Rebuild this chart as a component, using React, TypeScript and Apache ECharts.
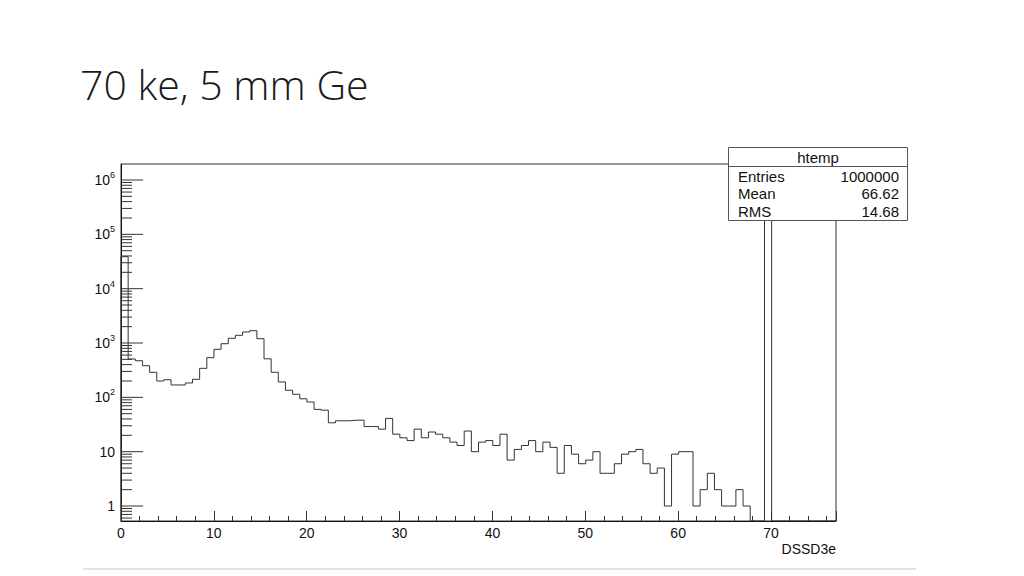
import React, { useEffect, useRef } from "react";
import * as echarts from "echarts";

// Histogram definition (ROOT "htemp", 100 bins)
const X_LOW = 0;
const X_HIGH = 77;
const Y_MIN = 0.53;
const Y_MAX = 1.97e6;
const X_TICKS = [0, 10, 20, 30, 40, 50, 60, 70];
const Y_DECADES = [-1, 0, 1, 2, 3, 4, 5, 6];

const COUNTS = [
  38800, 508, 472, 382, 289, 200, 211, 169, 169, 184,
  215, 342, 537, 766, 971, 1221, 1386, 1594, 1685, 1200,
  512, 289, 192, 135, 114, 94, 82, 60, 58, 34,
  37, 37, 38, 38, 29, 29, 26, 41, 21, 18,
  16, 26, 18, 23, 21, 18, 15, 13, 24, 10,
  15, 16, 13, 21, 7, 11, 13, 16, 10, 15,
  12, 4, 13, 9, 6, 7, 10, 4, 4, 6,
  9, 10, 11, 6, 4, 5, 1, 9, 10, 10,
  1, 2, 4, 2, 1, 1, 2, 1, 0, 0,
  940000, 0, 0, 0, 0, 0, 0, 0, 0, 0,
];

const TITLE = "70 ke, 5 mm Ge";
const HIST_NAME = "htemp";
const STATS_LABELS = ["Entries", "Mean", "RMS"];
const STATS_VALUES = ["1000000", "66.62", "14.68"];
const X_TITLE = "DSSD3e";

const AXIS_FONT = "Liberation Sans, Arial, sans-serif";
const INK = "#333";

export default function App() {
  const ref = useRef<HTMLDivElement>(null);

  useEffect(() => {
    if (!ref.current) return;
    const chart = echarts.init(ref.current, null, { renderer: "svg" });

    const nb = COUNTS.length;
    const bw = (X_HIGH - X_LOW) / nb;
    const clampV = (v: number) => (v > Y_MIN ? v : Y_MIN);
    const histData: number[][] = [[X_LOW, Y_MIN]];
    for (let i = 0; i < nb; i++) histData.push([X_LOW + i * bw, clampV(COUNTS[i])]);
    histData.push([X_HIGH, clampV(COUNTS[nb - 1])]);

    const tickData: number[][] = [];
    Y_DECADES.forEach((e) => {
      for (let k = 1; k <= 9; k++) {
        const v = k * Math.pow(10, e);
        if (v > Y_MIN && v < Y_MAX) tickData.push([X_LOW, v, k === 1 ? 22 : 11]);
      }
    });

    const yFmt = (v: number) => {
      const l = Math.log10(v);
      const e = Math.round(l);
      if (Math.abs(l - e) > 1e-6 || e < 0) return "";
      if (e === 0) return "1";
      if (e === 1) return "10";
      return `{b|10}{s|${e}}`;
    };

    const option: any = {
      animation: false,
      backgroundColor: "#fff",
      grid: {
        left: 121,
        top: 164,
        width: 715,
        height: 357,
        show: true,
        borderColor: INK,
        borderWidth: 1,
        backgroundColor: "transparent",
      },
      xAxis: {
        type: "value",
        min: X_LOW,
        max: X_HIGH,
        interval: 10,
        axisLine: { show: true, lineStyle: { color: "#111", width: 1 } },
        axisTick: { show: true, inside: true, length: 10, lineStyle: { color: INK } },
        minorTick: { show: true, splitNumber: 5, length: 5, lineStyle: { color: INK } },
        splitLine: { show: false },
        axisLabel: {
          color: "#111",
          fontFamily: AXIS_FONT,
          fontSize: 14,
          margin: 5,
          showMaxLabel: false,
          formatter: (v: number) => (X_TICKS.indexOf(v) >= 0 ? String(v) : ""),
        },
      },
      yAxis: {
        type: "log",
        logBase: 10,
        min: Y_MIN,
        max: Y_MAX,
        axisLine: { show: true, lineStyle: { color: "#111", width: 1 } },
        axisTick: { show: false },
        splitLine: { show: false },
        axisLabel: {
          color: "#111",
          fontFamily: AXIS_FONT,
          fontSize: 14,
          margin: 6,
          formatter: yFmt,
          rich: {
            b: { fontSize: 14, fontFamily: AXIS_FONT, color: "#111" },
            s: { fontSize: 9, fontFamily: AXIS_FONT, color: "#111", padding: [0, 0, 10, 0] },
          },
        },
      },
      series: [
        {
          type: "line",
          data: histData,
          step: "end",
          symbol: "none",
          lineStyle: { color: INK, width: 1 },
          clip: true,
          z: 3,
        },
        {
          type: "custom",
          data: tickData,
          clip: false,
          z: 4,
          renderItem: (params: any, api: any) => {
            const p = api.coord([api.value(0), api.value(1)]);
            const len = api.value(2);
            return {
              type: "line",
              shape: { x1: p[0], y1: p[1], x2: p[0] + len, y2: p[1] },
              style: { stroke: INK, lineWidth: 1 },
            };
          },
        },
      ],
      graphic: [
        {
          type: "text",
          z: 100,
          style: {
            text: TITLE,
            x: 80,
            y: 84,
            fill: "#1a1a1a",
            font: '300 41px "Open Sans", sans-serif',
            verticalAlign: "middle",
            align: "left",
          },
        },
        {
          type: "line",
          z: 100,
          shape: { x1: 83, y1: 569, x2: 916, y2: 569 },
          style: { stroke: "#c8c8c8", lineWidth: 1 },
        },
        {
          type: "text",
          z: 100,
          style: {
            text: X_TITLE,
            x: 836,
            y: 549,
            fill: "#111",
            font: `14px ${AXIS_FONT}`,
            align: "right",
            verticalAlign: "middle",
          },
        },
        {
          type: "group",
          z: 100,
          children: [
            {
              type: "rect",
              z: 100,
              shape: { x: 728.5, y: 147.5, width: 179, height: 73 },
              style: { fill: "#fff", stroke: "#555", lineWidth: 1 },
            },
            {
              type: "line",
              z: 101,
              shape: { x1: 728.5, y1: 166.5, x2: 907.5, y2: 166.5 },
              style: { stroke: "#555", lineWidth: 1 },
            },
            {
              type: "text",
              z: 101,
              style: {
                text: HIST_NAME,
                x: 818,
                y: 157,
                fill: "#111",
                font: `15px ${AXIS_FONT}`,
                align: "center",
                verticalAlign: "middle",
              },
            },
            ...STATS_LABELS.map((t, i) => ({
              type: "text",
              z: 101,
              style: {
                text: t,
                x: 738,
                y: 176 + i * 17.5,
                fill: "#111",
                font: `15px ${AXIS_FONT}`,
                align: "left",
                verticalAlign: "middle",
              },
            })),
            ...STATS_VALUES.map((t, i) => ({
              type: "text",
              z: 101,
              style: {
                text: t,
                x: 899,
                y: 176 + i * 17.5,
                fill: "#111",
                font: `15px ${AXIS_FONT}`,
                align: "right",
                verticalAlign: "middle",
              },
            })),
          ],
        },
      ],
    };

    chart.setOption(option);
    return () => chart.dispose();
  }, []);

  return (
    <div
      ref={ref}
      style={{ position: "fixed", left: 0, top: 0, width: 1024, height: 576, background: "#fff" }}
    />
  );
}
